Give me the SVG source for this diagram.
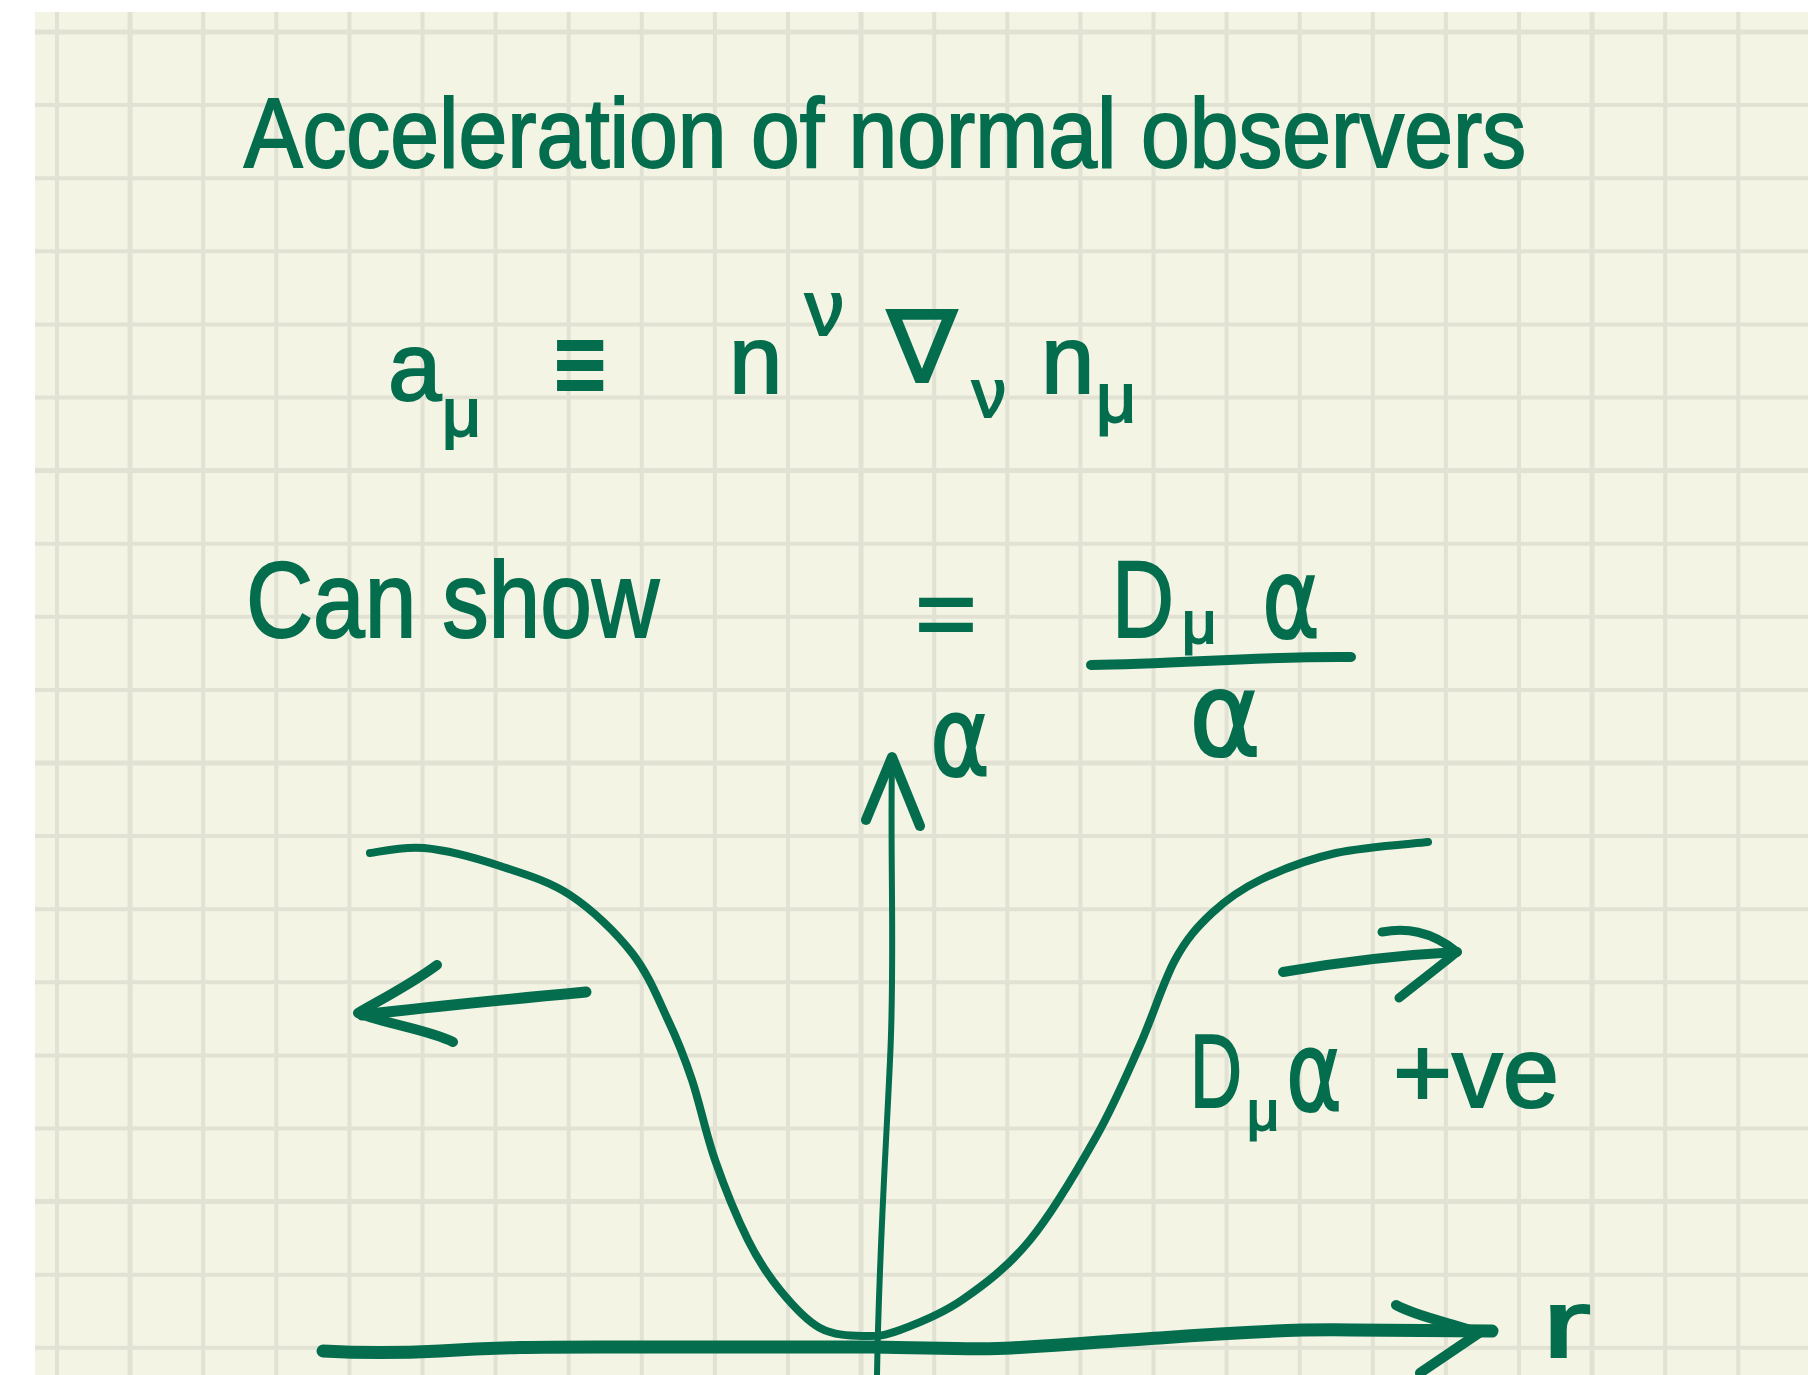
<svg xmlns="http://www.w3.org/2000/svg" width="1808" height="1375" viewBox="0 0 1808 1375">
<defs>
<style>
.ink{fill:#046d4d;stroke:#046d4d;stroke-width:2;font-family:"Liberation Sans","DejaVu Sans",sans-serif;}
.sym{font-family:"DejaVu Sans","Liberation Sans",sans-serif;}
.stroke{fill:none;stroke:#046d4d;stroke-linecap:round;stroke-linejoin:round;}
.grid line{stroke:#e2e2d4;stroke-width:4;}
</style>
</defs>
<rect x="0" y="0" width="1808" height="1375" fill="#ffffff"/>
<rect x="35" y="12" width="1773" height="1363" fill="#f4f4e4"/>
<g class="grid" id="grid">
<line x1="57" y1="12" x2="57" y2="1375"/>
<line x1="130.1" y1="12" x2="130.1" y2="1375" style="stroke-width:5"/>
<line x1="203.2" y1="12" x2="203.2" y2="1375"/>
<line x1="276.3" y1="12" x2="276.3" y2="1375"/>
<line x1="349.4" y1="12" x2="349.4" y2="1375"/>
<line x1="422.5" y1="12" x2="422.5" y2="1375"/>
<line x1="495.6" y1="12" x2="495.6" y2="1375"/>
<line x1="568.7" y1="12" x2="568.7" y2="1375"/>
<line x1="641.8" y1="12" x2="641.8" y2="1375"/>
<line x1="714.9" y1="12" x2="714.9" y2="1375"/>
<line x1="788" y1="12" x2="788" y2="1375"/>
<line x1="861.1" y1="12" x2="861.1" y2="1375" style="stroke-width:5"/>
<line x1="934.2" y1="12" x2="934.2" y2="1375"/>
<line x1="1007.3" y1="12" x2="1007.3" y2="1375"/>
<line x1="1080.4" y1="12" x2="1080.4" y2="1375"/>
<line x1="1153.5" y1="12" x2="1153.5" y2="1375"/>
<line x1="1226.6" y1="12" x2="1226.6" y2="1375"/>
<line x1="1299.7" y1="12" x2="1299.7" y2="1375"/>
<line x1="1372.8" y1="12" x2="1372.8" y2="1375"/>
<line x1="1445.9" y1="12" x2="1445.9" y2="1375"/>
<line x1="1519" y1="12" x2="1519" y2="1375"/>
<line x1="1592.1" y1="12" x2="1592.1" y2="1375" style="stroke-width:5"/>
<line x1="1665.2" y1="12" x2="1665.2" y2="1375"/>
<line x1="1738.3" y1="12" x2="1738.3" y2="1375"/>
<line x1="35" y1="32" x2="1808" y2="32" style="stroke-width:5"/>
<line x1="35" y1="105.1" x2="1808" y2="105.1"/>
<line x1="35" y1="178.2" x2="1808" y2="178.2"/>
<line x1="35" y1="251.3" x2="1808" y2="251.3"/>
<line x1="35" y1="324.4" x2="1808" y2="324.4"/>
<line x1="35" y1="397.5" x2="1808" y2="397.5"/>
<line x1="35" y1="470.6" x2="1808" y2="470.6" style="stroke-width:5"/>
<line x1="35" y1="543.7" x2="1808" y2="543.7"/>
<line x1="35" y1="616.8" x2="1808" y2="616.8"/>
<line x1="35" y1="689.9" x2="1808" y2="689.9"/>
<line x1="35" y1="763" x2="1808" y2="763" style="stroke-width:5"/>
<line x1="35" y1="836.1" x2="1808" y2="836.1"/>
<line x1="35" y1="909.2" x2="1808" y2="909.2"/>
<line x1="35" y1="982.3" x2="1808" y2="982.3"/>
<line x1="35" y1="1055.4" x2="1808" y2="1055.4"/>
<line x1="35" y1="1128.5" x2="1808" y2="1128.5"/>
<line x1="35" y1="1201.6" x2="1808" y2="1201.6" style="stroke-width:5"/>
<line x1="35" y1="1274.7" x2="1808" y2="1274.7"/>
<line x1="35" y1="1347.8" x2="1808" y2="1347.8"/>
</g>

<g id="title">
<text class="ink" x="244" y="167" font-size="98" textLength="1282" lengthAdjust="spacingAndGlyphs">Acceleration of normal observers</text>
</g>

<g id="definition">
<text class="ink" x="388" y="400" font-size="96">a</text>
<text class="ink" x="442" y="436" font-size="68">μ</text>
<text class="ink sym" x="550" y="400" font-size="110" textLength="60" lengthAdjust="spacingAndGlyphs">≡</text>
<text class="ink" x="729" y="393" font-size="96">n</text>
<text class="ink" x="805" y="335" font-size="78">ν</text>
<text class="ink sym" x="887" y="382" font-size="100" textLength="70" lengthAdjust="spacingAndGlyphs">∇</text>
<text class="ink" x="972" y="417" font-size="68">ν</text>
<text class="ink" x="1041" y="393" font-size="96">n</text>
<text class="ink" x="1096" y="422" font-size="70">μ</text>
</g>

<g id="result">
<text class="ink" x="246" y="637" font-size="108" textLength="413" lengthAdjust="spacingAndGlyphs">Can show</text>
<text class="ink" x="915" y="648" font-size="100" textLength="62" lengthAdjust="spacingAndGlyphs">=</text>
<text class="ink" x="1112" y="637" font-size="110" textLength="62" lengthAdjust="spacingAndGlyphs">D</text>
<text class="ink" x="1182" y="643" font-size="60">μ</text>
<text class="ink sym" x="1262" y="637" font-size="112" textLength="58" lengthAdjust="spacingAndGlyphs">α</text>
<text class="ink sym" x="1189" y="755" font-size="118" textLength="72" lengthAdjust="spacingAndGlyphs">α</text>
</g>

<g id="axis-labels">
<text class="ink sym" x="930" y="775" font-size="110" textLength="60" lengthAdjust="spacingAndGlyphs">α</text>
<text class="ink" x="1542" y="1357" font-size="96" textLength="49" lengthAdjust="spacingAndGlyphs">r</text>
</g>

<g id="annotation">
<text class="ink" x="1190" y="1107" font-size="104" textLength="52" lengthAdjust="spacingAndGlyphs">D</text>
<text class="ink" x="1247" y="1130" font-size="56">μ</text>
<text class="ink sym" x="1286" y="1110" font-size="110" textLength="56" lengthAdjust="spacingAndGlyphs">α</text>
<text class="ink" x="1393" y="1107" font-size="100" textLength="166" lengthAdjust="spacingAndGlyphs">+ve</text>
</g>

<g id="connectors">
<path class="stroke" stroke-width="10" d="M1091,665 C1180,664 1260,656 1351,657"/>
<path class="stroke" stroke-width="6" d="M877,1375 C879,1250 886,1150 890,1060 C895,960 890,860 892,762"/>
<path class="stroke" stroke-width="10" d="M866,820 L892,757 L920,826"/>
<path class="stroke" stroke-width="13" d="M323,1351 C360,1353 400,1353 440,1351 C500,1347 540,1347 600,1347 L875,1347 C940,1348 980,1350 1011,1348 C1080,1344 1110,1341 1160,1338 C1250,1331 1300,1329 1352,1330 L1492,1331"/>
<path class="stroke" stroke-width="10" d="M1396,1305 C1420,1318 1450,1322 1479,1333 L1420,1373"/>
<path class="stroke" stroke-width="8" d="M370,853 C379,852 402,846 424,848 C446,850 476,858 500,866 C524,874 548,880.5 570,895 C592,909.5 615.7,932 632,953 C648.3,973.8 658,998.8 668,1020 C678,1041 684.2,1056.7 692,1080 C699.8,1103.3 705.7,1133.3 715,1160 C724.3,1186.7 737.2,1218.3 748,1240 C758.8,1261.7 768,1275.3 780,1290 C792,1304.7 805.8,1320.3 820,1328 C834.2,1335.7 851.7,1335.7 865,1336 C878.3,1336.3 883.8,1336 900,1330 C916.2,1324 940.3,1315 962,1300 C983.7,1285 1007.7,1267.2 1030,1240 C1052.3,1212.8 1077.7,1169.5 1096,1137 C1114.3,1104.5 1126.8,1074.5 1140,1045 C1153.2,1015.5 1163,982 1175,960 C1187,938 1197.8,926.3 1212,913 C1226.2,899.7 1239.3,890 1260,880 C1280.7,870 1308,859.3 1336,853 C1364,846.7 1412.7,843.8 1428,842"/>
<path class="stroke" stroke-width="11" d="M586,992 C500,1000 420,1008 362,1015"/>
<path class="stroke" stroke-width="10" d="M437,965 C410,985 380,1000 358,1013 C390,1025 430,1030 453,1042"/>
<path class="stroke" stroke-width="10" d="M1283,972 C1340,962 1400,955 1457,952"/>
<path class="stroke" stroke-width="9" d="M1382,932 C1405,928 1430,930 1457,952 C1435,970 1415,985 1399,998"/>
</g>
</svg>
